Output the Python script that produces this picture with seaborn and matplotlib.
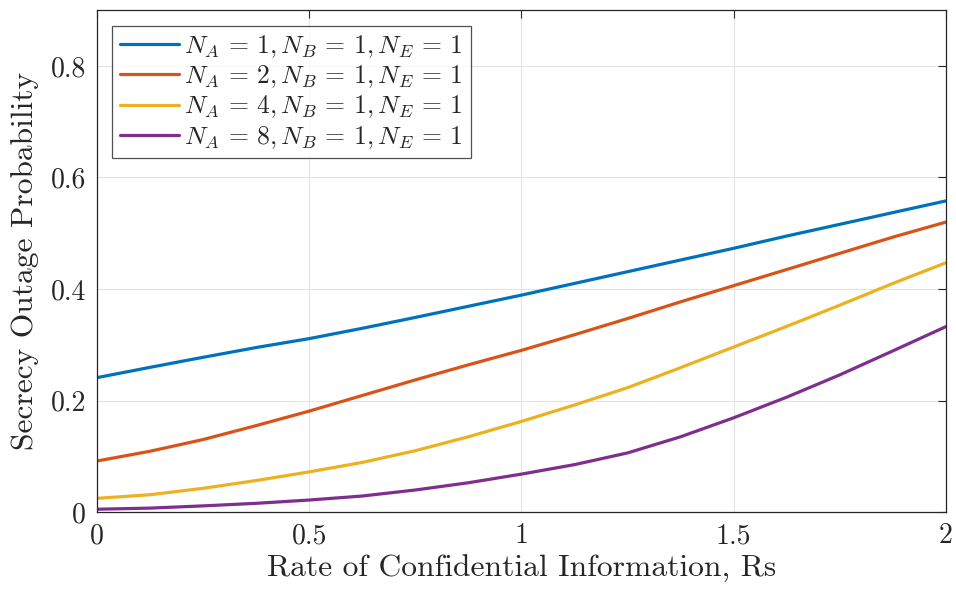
import pandas as pd
import matplotlib
matplotlib.use('Agg')
import matplotlib.pyplot as plt
import seaborn as sns

# Rate of confidential information (x axis)
rs = [0, 0.125, 0.25, 0.375, 0.5, 0.625, 0.75, 0.875, 1.0,
      1.125, 1.25, 1.375, 1.5, 1.625, 1.75, 1.875, 2.0]

# Secrecy outage probability
sop_na1 = [0.241, 0.2595, 0.2775, 0.295, 0.311, 0.3295, 0.349, 0.369, 0.389,
           0.410, 0.431, 0.452, 0.473, 0.495, 0.516, 0.537, 0.558]
sop_na2 = [0.0915, 0.109, 0.130, 0.155, 0.181, 0.209, 0.237, 0.264, 0.290,
           0.318, 0.347, 0.377, 0.406, 0.435, 0.464, 0.493, 0.520]
sop_na4 = [0.0245, 0.031, 0.0425, 0.0565, 0.072, 0.089, 0.110, 0.135, 0.1625,
           0.192, 0.223, 0.259, 0.296, 0.333, 0.371, 0.410, 0.447]
sop_na8 = [0.005, 0.007, 0.011, 0.0156, 0.0215, 0.0287, 0.0395, 0.0525, 0.068,
           0.085, 0.106, 0.135, 0.169, 0.206, 0.246, 0.289, 0.3325]

labels = [r'$N_A\,=\,1, N_B\,=\,1, N_E\,=\,1$',
          r'$N_A\,=\,2, N_B\,=\,1, N_E\,=\,1$',
          r'$N_A\,=\,4, N_B\,=\,1, N_E\,=\,1$',
          r'$N_A\,=\,8, N_B\,=\,1, N_E\,=\,1$']
colors = ['#0072BD', '#D95319', '#EDB120', '#7E2F8E']

frames = []
for lab, vals in zip(labels, [sop_na1, sop_na2, sop_na4, sop_na8]):
    frames.append(pd.DataFrame({'Rs': rs, 'SOP': vals, 'case': lab}))
df = pd.concat(frames, ignore_index=True)

sns.set_style('white')
plt.rcParams['font.family'] = 'serif'
plt.rcParams['font.serif'] = ['cmr10']
plt.rcParams['mathtext.fontset'] = 'cm'
plt.rcParams['axes.formatter.use_mathtext'] = True

fig = plt.figure(figsize=(9.56, 5.89), dpi=100)
ax = fig.add_axes([0.1015, 0.1307, 0.888, 0.852])

sns.lineplot(data=df, x='Rs', y='SOP', hue='case', palette=colors,
             linewidth=2.3, ax=ax)

ax.set_xlim(0, 2)
ax.set_ylim(0, 0.9)
ax.set_xticks([0, 0.5, 1, 1.5, 2])
ax.set_xticklabels(['0', '0.5', '1', '1.5', '2'])
ax.set_yticks([0, 0.2, 0.4, 0.6, 0.8])
ax.set_yticklabels(['0', '0.2', '0.4', '0.6', '0.8'])
ax.grid(True, color='#e3e3e3', linewidth=0.8)
ax.tick_params(direction='in', top=True, right=True, length=6,
               labelsize=20, color='#262626', pad=8)
for sp in ax.spines.values():
    sp.set_color('#262626')
    sp.set_linewidth(0.9)

ax.set_xlabel('Rate of Confidential Information, Rs', fontsize=22.7, labelpad=4)
ax.set_ylabel('Secrecy Outage Probability', fontsize=22.7, labelpad=8)

leg = ax.legend(loc='upper left', fontsize=18.5, frameon=True, fancybox=False,
                edgecolor='#262626', handlelength=2.3, handletextpad=0.2,
                borderpad=0.3, labelspacing=0.14, borderaxespad=0.6)
leg.get_frame().set_linewidth(0.9)

fig.savefig('out.png', dpi=100)
